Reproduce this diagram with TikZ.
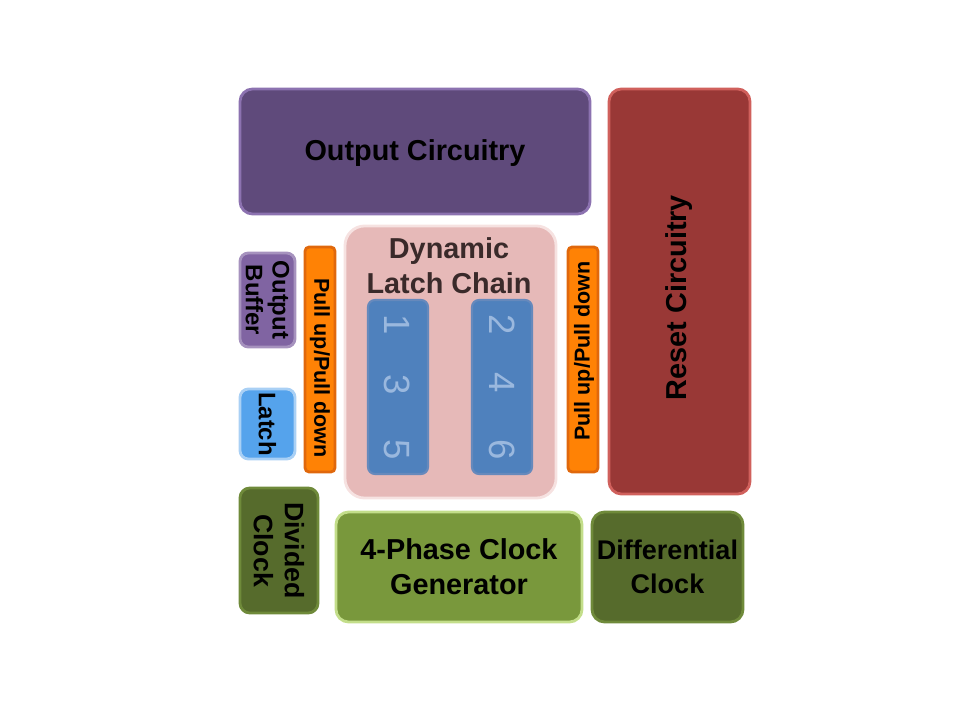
\documentclass[tikz,border=0pt]{standalone}
\usepackage{fontspec}
\setmainfont{Liberation Sans}
\usepackage{tikz}
\usetikzlibrary{positioning}

\definecolor{purpleDk}{HTML}{5F4A7B}
\definecolor{purpleLt}{HTML}{8C72B0}
\definecolor{purpleMd}{HTML}{8064A2}
\definecolor{redDk}{HTML}{993836}
\definecolor{redLt}{HTML}{D0605C}
\definecolor{pinkFill}{HTML}{E6B9B8}
\definecolor{pinkLt}{HTML}{F6E2E1}
\definecolor{blueFill}{HTML}{4F81BD}
\definecolor{blueDigit}{HTML}{9AB8DE}
\definecolor{blueLatch}{HTML}{55A3EC}
\definecolor{blueLatchLt}{HTML}{A9D0F5}
\definecolor{orangeFill}{HTML}{FF8205}
\definecolor{orangeLt}{HTML}{E0680C}
\definecolor{greenDk}{HTML}{566B2C}
\definecolor{greenDkLt}{HTML}{6F8A3A}
\definecolor{greenMd}{HTML}{79983C}
\definecolor{greenLt}{HTML}{C3DE8A}
\definecolor{chainText}{HTML}{3A2A2A}

\begin{document}
\begin{tikzpicture}[x=0.025cm, y=-0.025cm,
	blk/.style={rounded corners=#1, line width=2pt, inner sep=0pt,
		font=\fontsize{20.5}{25}\selectfont\bfseries, align=center},
	blk/.default=9pt,
	pullbox/.style={blk=3pt, fill=orangeFill, draw=orangeLt,
		minimum width=0.75cm, minimum height=5.625cm},
	pulltxt/.style={inner sep=0pt, font=\fontsize{15.3}{17}\selectfont\bfseries},
	chip/.style={rounded corners=5pt, fill=blueFill, draw=blueFill!85!pinkFill,
		line width=1.5pt, minimum width=1.5cm, minimum height=4.35cm},
	digit/.style={rotate=-90, text=blueDigit, font=\fontsize{26}{26}\selectfont}]

	% Fix the page
	\useasboundingbox (0,0) rectangle (960,720);

	% Top block
	\node[blk, fill=purpleDk, draw=purpleLt, minimum width=8.75cm,
		minimum height=3.125cm] (out) at (415,151.5) {};
	\node[blk] (outtxt) at (415,153) {Output Circuitry};

	% Reset block on the right
	\node[blk, fill=redDk, draw=redLt, minimum width=3.525cm,
		minimum height=10.125cm] (reset) at (679.5,291.5) {};
	\node[blk, rotate=90] (resettxt) at (679,297.5) {Reset Circuitry};

	% Latch chain in the middle
	\node[blk=14pt, fill=pinkFill, draw=pinkLt, minimum width=5.275cm,
		minimum height=6.8cm] (chain) at (450.5,362) {};
	\node[blk, text=chainText] (chaintxt) at (449,266) {Dynamic\\Latch Chain};
	\node[chip] (chipL) at (398,387) {};
	\node[chip] (chipR) at (502,387) {};
	%Odd latches
	\foreach \n/\y in {1/325,3/385,5/450}
		\node[digit] (d\n) at (397,\y) {\n};
	%Even latches
	\foreach \n/\y in {2/325,4/383,6/450}
		\node[digit] (d\n) at (502,\y) {\n};

	% Pull up/Pull down strips
	\node[pullbox] (pullL) at (320,359.5) {};
	\node[pulltxt, rotate=-90] (pullLtxt) at (320,368) {Pull up/Pull down};
	\node[pullbox] (pullR) at (583,359.5) {};
	\node[pulltxt, rotate=90] (pullRtxt) at (584,351) {Pull up/Pull down};

	% Small blocks on the left
	\node[blk=6pt, rotate=-90, fill=purpleMd, draw=purpleMd!70!white,
		minimum width=2.35cm, minimum height=1.375cm,
		font=\fontsize{17}{19}\selectfont\bfseries] (obuf) at (267.5,300) {Output\\Buffer};
	\node[blk=6pt, rotate=-90, fill=blueLatch, draw=blueLatchLt,
		minimum width=1.75cm, minimum height=1.375cm,
		font=\fontsize{17}{19}\selectfont\bfseries] (latch) at (267.5,424) {Latch};

	% Clock blocks at the bottom
	\node[blk=7pt, rotate=-90, fill=greenDk, draw=greenDkLt,
		minimum width=3.125cm, minimum height=1.95cm,
		font=\fontsize{19}{22}\selectfont\bfseries] (divclk) at (279,550.5) {Divided\\Clock};
	\node[blk, fill=greenMd, draw=greenLt, minimum width=6.15cm,
		minimum height=2.75cm] (gen) at (459,567) {4-Phase Clock\\Generator};
	\node[blk, fill=greenDk, draw=greenDkLt, minimum width=3.775cm,
		minimum height=2.75cm,
		font=\fontsize{19.2}{24}\selectfont\bfseries] (diff) at (667.5,567) {Differential\\Clock};

\end{tikzpicture}
\end{document}
